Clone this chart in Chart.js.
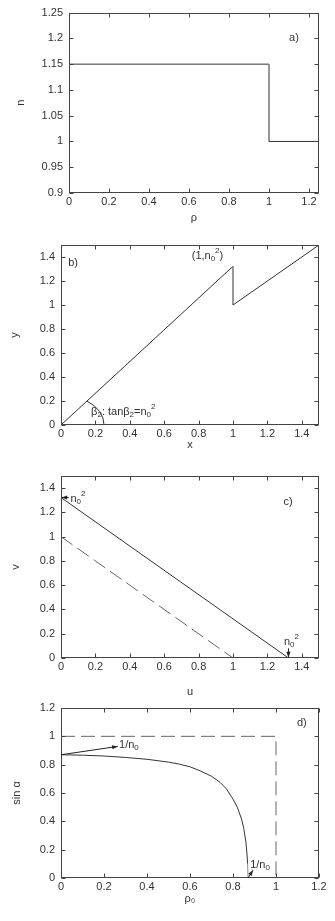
<!DOCTYPE html>
<html>
<head>
<meta charset="utf-8">
<script src="https://cdn.jsdelivr.net/npm/chart.js@4"></script>
<style>
  html, body { margin: 0; padding: 0; background: #fff; }
  body { width: 335px; height: 921px; position: relative; overflow: hidden; }
  canvas { position: absolute; left: 0; }
</style>
</head>
<body>
<canvas id="chartA" width="335" height="230" style="top:0px"></canvas>
<canvas id="chartB" width="335" height="230" style="top:230px"></canvas>
<canvas id="chartC" width="335" height="245" style="top:460px"></canvas>
<canvas id="chartD" width="335" height="231" style="top:690px"></canvas>
<script>
// a) index profile n(rho)
const rhoA = [0, 1, 1, 1.25];
const nA = [1.15, 1.15, 1, 1];
const xTicksA = [0, 0.2, 0.4, 0.6, 0.8, 1, 1.2];
const yTicksA = [0.9, 0.95, 1, 1.05, 1.1, 1.15, 1.2, 1.25];

// b) y(x)
const xB = [0, 1, 1, 1.5];
const yB = [0, 1.3225, 1, 1.5];
const ticksB = [0, 0.2, 0.4, 0.6, 0.8, 1, 1.2, 1.4];

// c) v(u)
const uSolidC = [0, 1.3225];
const vSolidC = [1.3225, 0];
const uDashC = [0, 1];
const vDashC = [1, 0];
const ticksC = [0, 0.2, 0.4, 0.6, 0.8, 1, 1.2, 1.4];

// d) sin alpha vs rho0
const rho0D = [0, 0.1, 0.2, 0.3, 0.4, 0.5, 0.55, 0.6, 0.65, 0.7, 0.74, 0.77, 0.8, 0.82, 0.84, 0.85, 0.86, 0.865, 0.868, 0.87];
const sinD = [0.870, 0.867, 0.861, 0.851, 0.838, 0.818, 0.804, 0.785, 0.755, 0.718, 0.675, 0.628, 0.556, 0.5, 0.415, 0.35, 0.255, 0.17, 0.1, 0];
const rhoDashD = [0, 1, 1];
const sinDashD = [1, 1, 0];
const ticksD = [0, 0.2, 0.4, 0.6, 0.8, 1, 1.2];

const FONT = "'Liberation Sans', Arial, sans-serif";
const TEXT = "#333";

function pts(xs, ys) {
  return xs.map((x, i) => ({ x: x, y: ys[i] }));
}

function fmt(v) {
  return String(Number(Number(v).toFixed(3)));
}

// text with gnuplot-like _sub and ^sup markup
function richText(ctx, str, x, y, align) {
  const segs = [];
  for (let i = 0; i < str.length; i++) {
    const c = str[i];
    if ((c === "_" || c === "^") && i + 1 < str.length) {
      segs.push({ t: str[i + 1], m: c });
      i++;
    } else {
      segs.push({ t: c, m: "" });
    }
  }
  let w = 0;
  segs.forEach((s) => {
    ctx.font = (s.m ? "8px " : "11px ") + FONT;
    s.w = ctx.measureText(s.t).width;
    w += s.w;
  });
  let cx = align === "center" ? x - w / 2 : align === "right" ? x - w : x;
  ctx.fillStyle = TEXT;
  ctx.textAlign = "left";
  ctx.textBaseline = "middle";
  segs.forEach((s) => {
    ctx.font = (s.m ? "8px " : "11px ") + FONT;
    const dy = s.m === "_" ? 3 : s.m === "^" ? -5 : 0;
    ctx.fillText(s.t, cx, y + dy);
    cx += s.w;
  });
}

function arrow(ctx, x1, y1, x2, y2) {
  const a = Math.atan2(y2 - y1, x2 - x1);
  ctx.strokeStyle = "#222";
  ctx.fillStyle = "#222";
  ctx.lineWidth = 1;
  ctx.beginPath();
  ctx.moveTo(x1, y1);
  ctx.lineTo(x2, y2);
  ctx.stroke();
  ctx.beginPath();
  ctx.moveTo(x2, y2);
  ctx.lineTo(x2 - 6 * Math.cos(a - 0.35), y2 - 6 * Math.sin(a - 0.35));
  ctx.lineTo(x2 - 6 * Math.cos(a + 0.35), y2 - 6 * Math.sin(a + 0.35));
  ctx.closePath();
  ctx.fill();
}

// box around the plot, inward ticks on all four sides, then labels
function frame(extra) {
  return {
    id: "frame",
    afterDatasetsDraw(chart) {
      const { ctx, chartArea: a, scales: { x, y } } = chart;
      const L = Math.round(a.left) + 0.5, R = Math.round(a.right) - 0.5;
      const T = Math.round(a.top) + 0.5, B = Math.round(a.bottom) - 0.5;
      ctx.save();
      ctx.strokeStyle = "#444";
      ctx.lineWidth = 1;
      ctx.strokeRect(L, T, R - L, B - T);
      ctx.beginPath();
      x.ticks.forEach((t) => {
        const p = Math.round(x.getPixelForValue(t.value)) + 0.5;
        ctx.moveTo(p, B); ctx.lineTo(p, B - 4);
        ctx.moveTo(p, T); ctx.lineTo(p, T + 4);
      });
      y.ticks.forEach((t) => {
        const p = Math.round(y.getPixelForValue(t.value)) + 0.5;
        ctx.moveTo(L, p); ctx.lineTo(L + 4, p);
        ctx.moveTo(R, p); ctx.lineTo(R - 4, p);
      });
      ctx.stroke();
      if (extra) {
        extra(ctx, (v) => x.getPixelForValue(v), (v) => y.getPixelForValue(v));
      }
      ctx.restore();
    },
  };
}

function line(data, dashed) {
  return {
    data: data,
    showLine: true,
    borderColor: dashed ? "#666" : "#333",
    borderWidth: 1,
    borderDash: dashed ? [14, 6] : [],
    pointRadius: 0,
    fill: false,
    // vertical jumps look lighter in the original
    segment: {
      borderColor: (c) => (!dashed && Math.abs(c.p0.x - c.p1.x) < 0.5 ? "#888" : undefined),
    },
  };
}

function makePanel(id, datasets, o) {
  const cv = document.getElementById(id);
  const H = cv.height;
  return new Chart(cv, {
    type: "scatter",
    data: { datasets: datasets },
    options: {
      responsive: false,
      animation: false,
      devicePixelRatio: 1,
      layout: { padding: { top: o.top, right: 16, bottom: 0, left: 0 } },
      plugins: { legend: { display: false }, tooltip: { enabled: false } },
      scales: {
        x: {
          type: "linear",
          min: o.xMin, max: o.xMax,
          grid: { display: false, drawTicks: false },
          border: { display: false },
          ticks: { font: { family: FONT, size: 11 }, color: TEXT, padding: 2, maxRotation: 0, autoSkip: false, callback: fmt },
          afterBuildTicks: (s) => { s.ticks = o.xTicks.map((v) => ({ value: v })); },
          afterFit: (s) => { s.height = H - o.bottom; },
          title: { display: true, text: o.xTitle, color: TEXT, font: { family: FONT, size: 11 }, padding: { top: 0, bottom: o.xTitlePad } },
        },
        y: {
          type: "linear",
          min: o.yMin, max: o.yMax,
          grid: { display: false, drawTicks: false },
          border: { display: false },
          ticks: { font: { family: FONT, size: 11 }, color: TEXT, padding: 6, autoSkip: false, callback: fmt },
          afterBuildTicks: (s) => { s.ticks = o.yTicks.map((v) => ({ value: v })); },
          afterFit: (s) => { s.width = o.left; },
          title: { display: true, text: o.yTitle, color: TEXT, font: { family: FONT, size: 11 }, padding: { top: o.yTitlePad, bottom: 0 } },
        },
      },
    },
    plugins: [frame(o.extra)],
  });
}

makePanel("chartA", [line(pts(rhoA, nA))], {
  top: 12, bottom: 193, left: 69,
  xMin: 0, xMax: 1.25, yMin: 0.9, yMax: 1.25,
  xTicks: xTicksA, yTicks: yTicksA,
  xTitle: "ρ", yTitle: "n", xTitlePad: 5, yTitlePad: 14,
  extra: (ctx, px, py) => {
    richText(ctx, "a)", px(1.125), py(1.2), "center");
  },
});

makePanel("chartB", [line(pts(xB, yB))], {
  top: 15, bottom: 195, left: 61,
  xMin: 0, xMax: 1.5, yMin: 0, yMax: 1.5,
  xTicks: ticksB, yTicks: ticksB,
  xTitle: "x", yTitle: "y", xTitlePad: 8, yTitlePad: 8,
  extra: (ctx, px, py) => {
    richText(ctx, "b)", px(0.07), py(1.35), "center");
    richText(ctx, "(1,n_0^2)", px(0.76), py(1.41), "left");
    richText(ctx, "β_2: tanβ_2=n_0^2", px(0.175), py(0.11), "left");
    // angle mark, radius 0.25 in data units
    const t = Math.atan2(yB[1], xB[1]);
    ctx.strokeStyle = "#333";
    ctx.lineWidth = 1;
    ctx.beginPath();
    ctx.ellipse(px(0), py(0), px(0.25) - px(0), py(0) - py(0.25), 0, -t, 0);
    ctx.stroke();
  },
});

makePanel("chartC", [line(pts(uSolidC, vSolidC)), line(pts(uDashC, vDashC), true)], {
  top: 16, bottom: 198, left: 61,
  xMin: 0, xMax: 1.5, yMin: 0, yMax: 1.5,
  xTicks: ticksC, yTicks: ticksC,
  xTitle: "u", yTitle: "v", xTitlePad: 6, yTitlePad: 9,
  extra: (ctx, px, py) => {
    richText(ctx, "c)", px(1.32), py(1.286), "center");
    arrow(ctx, px(0.045), py(vSolidC[0]), px(0.003), py(vSolidC[0]));
    richText(ctx, "n_0^2", px(0.055), py(1.31), "left");
    arrow(ctx, px(uSolidC[1]), py(0.08), px(uSolidC[1]), py(0.005));
    richText(ctx, "n_0^2", px(1.296), py(0.135), "left");
  },
});

makePanel("chartD", [line(pts(rho0D, sinD)), line(pts(rhoDashD, sinDashD), true)], {
  top: 18, bottom: 188, left: 61,
  xMin: 0, xMax: 1.2, yMin: 0, yMax: 1.2,
  xTicks: ticksD, yTicks: ticksD,
  xTitle: "ρ₀", yTitle: "sin α", xTitlePad: 15, yTitlePad: 10,
  extra: (ctx, px, py) => {
    richText(ctx, "d)", px(1.12), py(1.096), "center");
    arrow(ctx, px(0), py(sinD[0]), px(0.264), py(0.929));
    richText(ctx, "1/n_0", px(0.27), py(0.94), "left");
    arrow(ctx, px(rho0D[rho0D.length - 1]), py(0), px(0.893), py(0.055));
    richText(ctx, "1/n_0", px(0.88), py(0.095), "left");
  },
});
</script>
</body>
</html>
